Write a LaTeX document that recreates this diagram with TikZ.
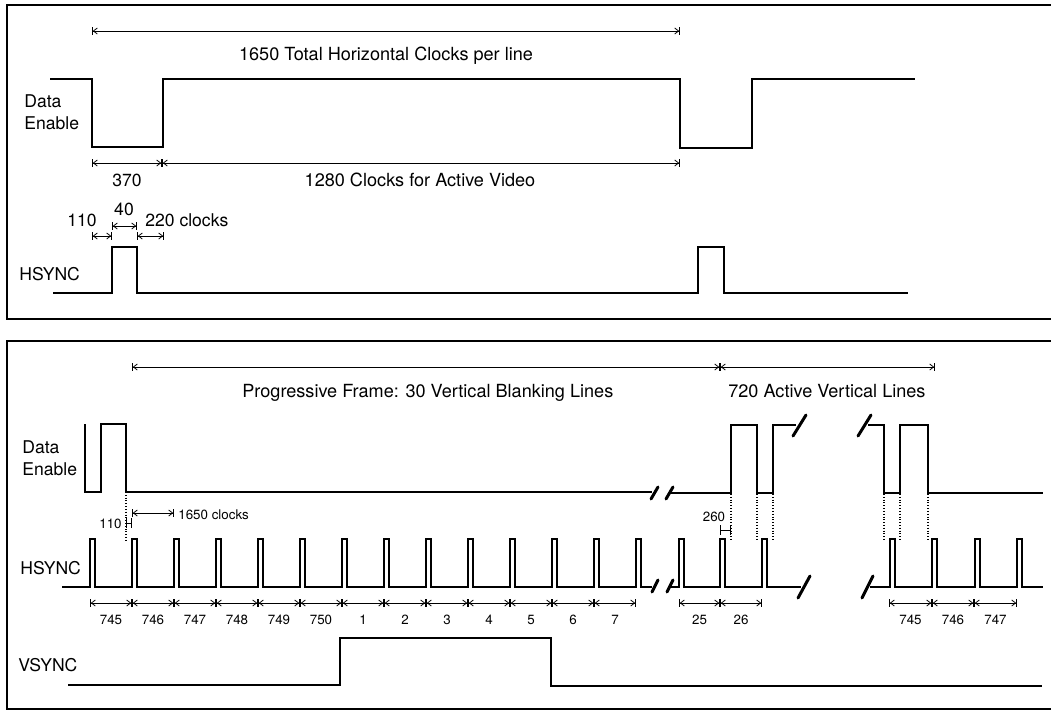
\documentclass[tikz,border=0pt]{standalone}
\usepackage{fontspec}
\setmainfont{TeX Gyre Heros}
\usetikzlibrary{arrows.meta}
\begin{document}
\begin{tikzpicture}[x=0.02cm,y=-0.02cm,
  wave/.style={line width=0.75pt, line join=miter},
  dim/.style={line width=0.45pt, {Bar[width=4.5pt]Straight Barb[length=2.2pt,width=3.4pt]}-{Straight Barb[length=2.2pt,width=3.4pt]Bar[width=4.5pt]}},
  hmark/.style={line width=0.5pt, {Bar[width=5.5pt]}-{Bar[width=5.5pt]}},
  brk/.style={line width=1.7pt, line cap=round},
  guide/.style={densely dotted, line width=0.6pt},
  frame/.style={line width=0.8pt},
  big/.style={font=\fontsize{10.3pt}{12.5pt}\selectfont, inner sep=0pt},
  lab/.style={font=\fontsize{10pt}{12.5pt}\selectfont, inner sep=0pt, align=left},
  small/.style={font=\fontsize{7.6pt}{9pt}\selectfont, inner sep=0pt}]
\useasboundingbox (0,0) rectangle (1051,711);
% frames
\draw[frame] (1051,5) -- (7,5) -- (7,319) -- (1051,319);
\draw[frame] (1051,341) -- (7,341) -- (7,709) -- (1051,709);

% ================= TOP PANEL =================
\draw[dim] (92,31) -- (680,31);
\node[big, anchor=base] (ttot) at (386,60) {1650 Total Horizontal Clocks per line};
\node[lab, anchor=west] (tde) at (24,112) {Data\\Enable};
\draw[wave] (50,79) -- (92,79) -- (92,147) -- (163,147) -- (163,79) -- (680,79)
  -- (680,148) -- (752,148) -- (752,79) -- (915,79);
\draw[dim] (92,163) -- (162,163);
\draw[dim] (162,163) -- (680,163);
\node[lab, anchor=base] (t370) at (127,186) {370};
\node[big, anchor=base] (tact) at (420,186) {1280 Clocks for Active Video};
\node[lab, anchor=base] (t110) at (82,226) {110};
\node[lab, anchor=base] (t40) at (124,215) {40};
\node[lab, anchor=base west] (t220) at (145,226) {220 clocks};
\draw[dim] (92,236) -- (112,236);
\draw[dim] (112,226) -- (137,226);
\draw[dim] (137,236) -- (164,236);
\node[lab, anchor=base west] (ths) at (19,280) {HSYNC};
\draw[wave] (53,293) -- (112,293) -- (112,247) -- (137,247) -- (137,293) -- (698,293)
  -- (698,247) -- (724,247) -- (724,293) -- (908,293);

% ================= BOTTOM PANEL =================
\draw[dim] (132,367) -- (720,367);
\draw[dim] (720,367) -- (935,367);
\node[big, anchor=base west] (bprog) at (242,397) {Progressive Frame: 30 Vertical Blanking Lines};
\node[big, anchor=base west] (bact) at (728,397) {720 Active Vertical Lines};
\node[lab, anchor=west] (bde) at (22,458) {Data\\Enable};

% Data Enable (bottom)
\draw[wave] (85,424) -- (85,492) -- (101,492) -- (101,424) -- (126,424) -- (126,492) -- (652,492);
\draw[brk] (651,499) -- (658,487);
\draw[brk] (666,499) -- (673,487);
\draw[wave] (671,493) -- (731,493) -- (731,425) -- (757,425) -- (757,493) -- (773,493)
  -- (773,425) -- (796,425);
\draw[brk] (793,436) -- (806,415);
\draw[brk] (858,436) -- (871,415);
\draw[wave] (868,425) -- (884,425) -- (884,493) -- (900,493) -- (900,425) -- (928,425)
  -- (928,493) -- (1043,493);

% guides
\draw[guide] (126,492) -- (126,540);
\foreach \gx in {731,757,773,884,900,928} \draw[guide] (\gx,494) -- (\gx,541);

% markers
\draw[dim] (132,513) -- (174,513);
\node[small, anchor=base west] (b1650) at (178,519) {1650 clocks};
\node[small, anchor=base east] (b110) at (122,528) {110};
\draw[hmark] (126,523) -- (132,523);
\node[small, anchor=base] (b260) at (714,521) {260};
\draw[hmark] (720,530) -- (731,530);

% HSYNC (bottom)
\node[lab, anchor=base west] (bhs) at (20,574) {HSYNC};
\draw[wave] (62,587)
  \foreach \p in {90,132,174,216,258,300,342,384,426,468,510,552,594,636}
    { -- (\p,587) -- (\p,539) -- (\p+5,539) -- (\p+5,587) }
  -- (652,587);
\draw[brk] (652,592) -- (658,580);
\draw[brk] (667,592) -- (673,580);
\draw[wave] (671,587)
  \foreach \p in {679,720,762}
    { -- (\p,587) -- (\p,539) -- (\p+5,539) -- (\p+5,587) }
  -- (801,587);
\draw[brk] (798,598) -- (810,576);
\draw[brk] (862,598) -- (873,576);
\draw[wave] (870,587)
  \foreach \p in {890,932,975,1017}
    { -- (\p,587) -- (\p,539) -- (\p+5,539) -- (\p+5,587) }
  -- (1043,587);

% line number dimensions
\foreach \a/\b/\t in {90/132/745,132/174/746,174/216/747,216/258/748,258/300/749,300/342/750,
  342/384/1,384/426/2,426/468/3,468/510/4,510/552/5,552/594/6,594/636/7,
  679/720/25,720/762/26,889/932/745,932/974/746,974/1017/747}
{
  \draw[dim] (\a,603) -- (\b,603);
  \node[small, anchor=base] (n\a) at ({(\a+\b)/2},624) {\t};
}

% VSYNC
\node[lab, anchor=base west] (bvs) at (18,671) {VSYNC};
\draw[wave] (68,685) -- (340,685) -- (340,638) -- (551,638) -- (551,686) -- (1042,686);
\end{tikzpicture}
\end{document}
